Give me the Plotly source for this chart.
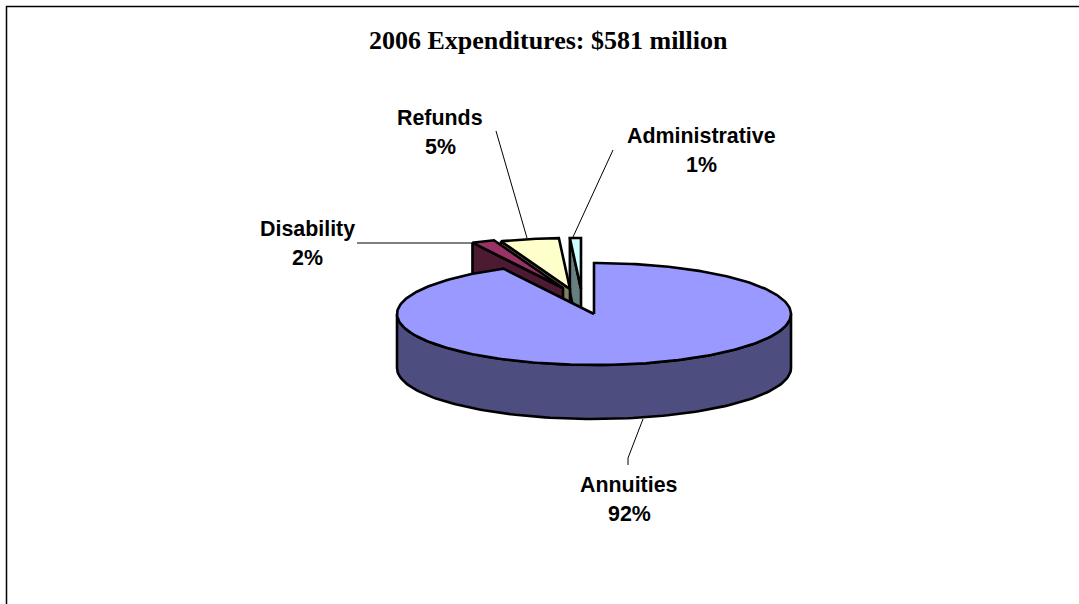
import numpy as np
import plotly.graph_objects as go

# ---- data ----
categories = ["Annuities", "Disability", "Refunds", "Administrative"]
shares = [92.4, 1.9, 4.8, 0.9]
top_colors = ["#9999FF", "#993366", "#FFFFCC", "#CCFFFF"]
wall_colors = ["#4D4D80", "#4D1A33", "#808066", "#668080"]
title_text = "2006 Expenditures: $581 million"

# ---- pie projection ----
W, H = 1079, 604
CX, CY, RX, RY, DEPTH = 594.0, 314.0, 197.0, 51.0, 54.0
# apex shift of each exploded slice (pixels)
shift = {"Annuities": (0, 0), "Disability": (-31, -26), "Refunds": (-24, -25), "Administrative": (-13, -25)}
# rim offset of a slice, by clockwise angle from 12 o'clock
def rim(t, c=(CX, CY)):
    return c[0] + RX * np.sin(t), c[1] - RY * np.cos(t)

fig = go.Figure()
LW = 2.6
def poly(x, y, fill):
    fig.add_trace(go.Scatter(x=list(x), y=list(y), mode="lines", fill="toself", fillcolor=fill,
                             line=dict(color="#000000", width=LW), hoverinfo="skip", showlegend=False))

edges = np.cumsum([0] + shares) / sum(shares) * 2 * np.pi
spans = {c: (edges[i], edges[i + 1]) for i, c in enumerate(categories)}
colors = {c: (top_colors[i], wall_colors[i]) for i, c in enumerate(categories)}

# back slices, far right first
for name in ["Administrative", "Refunds", "Disability"]:
    a, b = spans[name]
    c = (CX + shift[name][0], CY + shift[name][1])
    top, wall = colors[name]
    ox, oy = rim(a, c)
    poly([ox, c[0], c[0], ox, ox], [oy, c[1], c[1] + DEPTH, oy + DEPTH, oy], wall)
    t = np.linspace(a, b, 40)
    ax, ay = rim(t, c)
    poly(np.r_[c[0], ax, c[0]], np.r_[c[1], ay, c[1]], top)

# the large slice: front wall, then top
name = categories[0]
a, b = spans[name]
t = np.linspace(np.pi / 2, 3 * np.pi / 2, 120)
fx, fy = rim(t)
poly(np.r_[fx, fx[::-1], fx[0]], np.r_[fy, fy[::-1] + DEPTH, fy[0]], colors[name][1])
t = np.linspace(a, b, 300)
ax, ay = rim(t)
poly(np.r_[CX, ax, CX], np.r_[CY, ay, CY], colors[name][0])

# leader lines and frame
def line(x, y, width=1):
    fig.add_trace(go.Scatter(x=x, y=y, mode="lines", line=dict(color="#000000", width=width),
                             hoverinfo="skip", showlegend=False))
line([357, 472], [243, 243])
line([496, 527], [131, 238])
line([613, 573], [150, 237])
line([628, 628, 643], [465, 458, 419])
line([6.5, 6.5, 1079], [604, 6.5, 6.5], 1.5)

# labels
label_pos = {"Annuities": (629, 485), "Disability": (307, 228.5), "Refunds": (440, 118), "Administrative": (701, 135.5)}
font = dict(family="Liberation Sans", size=21.4, color="#000000")
ann = []
for cat, v in zip(categories, shares):
    x, y = label_pos[cat]
    ann.append(dict(x=x, y=y, text=f"<b>{cat}</b>", showarrow=False, font=font, xanchor="center", yanchor="middle"))
    ann.append(dict(x=x, y=y + 29, text=f"<b>{v:.0f}%</b>", showarrow=False, font=font, xanchor="center", yanchor="middle"))
ann.append(dict(x=548, y=40, text=f"<b>{title_text}</b>", showarrow=False, xanchor="center", yanchor="middle",
                font=dict(family="Liberation Serif", size=26, color="#000000")))

fig.update_layout(
    width=W, height=H, autosize=False, showlegend=False,
    margin=dict(l=0, r=0, t=0, b=0), paper_bgcolor="#FFFFFF", plot_bgcolor="#FFFFFF",
    xaxis=dict(range=[0, W], visible=False, fixedrange=True),
    yaxis=dict(range=[H, 0], visible=False, fixedrange=True),
    annotations=ann,
)
fig.write_html("out.html", config={"displayModeBar": False},
               post_script="document.body.style.margin='0';document.documentElement.style.overflow='hidden';")
